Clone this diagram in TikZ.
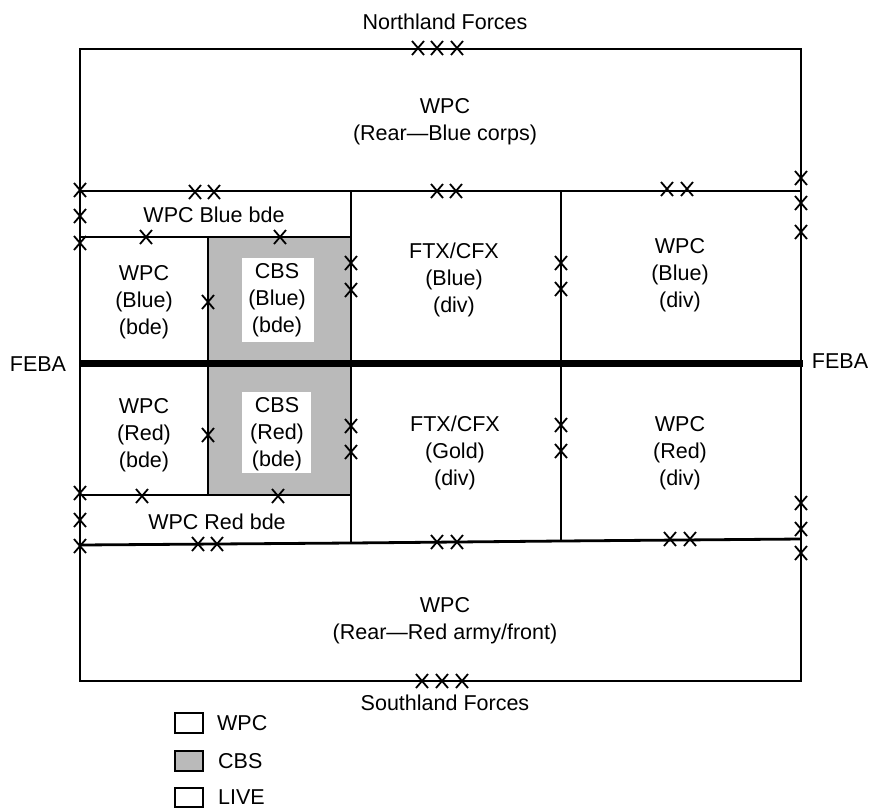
\documentclass[tikz,border=0pt]{standalone}
\usepackage{fontspec}
\setmainfont{Liberation Sans}
\begin{document}
\begin{tikzpicture}[x=1pt,y=-1pt,
  ln/.style={line width=2.8pt},
  lbl/.style={font=\fontsize{21.5}{27}\selectfont, align=center, inner sep=0pt},
  cbsfill/.style={fill=black!27},
  legbox/.style={draw, line width=1.6pt},
  xm/.pic={\draw[line width=1.8pt] (-6,-7)--(6,7) (-6,7)--(6,-7);}]
\useasboundingbox (0,0) rectangle (869,809);
% CBS shaded cells
\fill[cbsfill] (208,237) rectangle (351,495);
\fill[white] (242,258) rectangle (314,342);
\fill[white] (242,392) rectangle (311,473);
% frame and grid
\draw[ln] (80,49) rectangle (801,681);
\draw[ln] (80,191) -- (801,191);
\draw[ln] (80,237) -- (351,237);
\draw[ln] (351,191) -- (351,543);
\draw[ln] (561,191) -- (561,541);
\draw[ln] (208,237) -- (208,495);
\draw[ln] (80,495) -- (351,495);
\draw[ln] (80,545) -- (351,543) -- (561,541) -- (801,539);
\draw[line width=7pt] (80,363) -- (803,363);
% crossing marks
\foreach \p in {(418,48),(437,48),(457,48),(422,681),(442,681),(462,681),
  (195,192),(214,192),(437,191),(456,191),(667,189),(687,189),
  (80,190),(80,216),(80,243),(80,493),(80,520),(80,546),
  (801,178),(801,203),(801,232),(801,503),(801,529),(801,553),
  (146,237),(280,237),(208,302),(208,435),
  (351,263),(351,290),(351,426),(351,452),
  (561,263),(561,289),(561,425),(561,451),
  (142,496),(278,496),
  (198,544),(217,544),(437,542),(457,542),(670,539),(690,539)}
  \pic at \p {xm};
% labels
\node[lbl] (north) at (445,22) {Northland Forces};
\node[lbl] (south) at (445,703) {Southland Forces};
\node[lbl] (rearblue) at (445,122) {WPC\\(Rear---Blue corps)};
\node[lbl] (rearred) at (445,621) {WPC\\(Rear---Red army/front)};
\node[lbl] (bluebde) at (214,215) {WPC Blue bde};
\node[lbl] (redbde) at (217,522) {WPC Red bde};
\node[lbl] (wpcbb) at (144,302) {WPC\\(Blue)\\(bde)};
\node[lbl] (cbsb) at (277,300) {CBS\\(Blue)\\(bde)};
\node[lbl] (ftxb) at (454,280) {FTX/CFX\\(Blue)\\(div)};
\node[lbl] (wpcbd) at (680,275) {WPC\\(Blue)\\(div)};
\node[lbl] (wpcrb) at (144,435) {WPC\\(Red)\\(bde)};
\node[lbl] (cbsr) at (277,434) {CBS\\(Red)\\(bde)};
\node[lbl] (ftxg) at (455,453) {FTX/CFX\\(Gold)\\(div)};
\node[lbl] (wpcrd) at (680,453) {WPC\\(Red)\\(div)};
\node[lbl] (febal) at (38,364) {FEBA};
\node[lbl] (febar) at (840,361) {FEBA};
% legend
\draw[legbox] (175,713) rectangle (203,733);
\draw[legbox, cbsfill] (175,751) rectangle (203,771);
\draw[legbox] (175,788) rectangle (203,807);
\node[lbl, anchor=west] (lwpc) at (217,723) {WPC};
\node[lbl, anchor=west] (lcbs) at (218,761) {CBS};
\node[lbl, anchor=west] (llive) at (218,797) {LIVE};
\end{tikzpicture}
\end{document}
